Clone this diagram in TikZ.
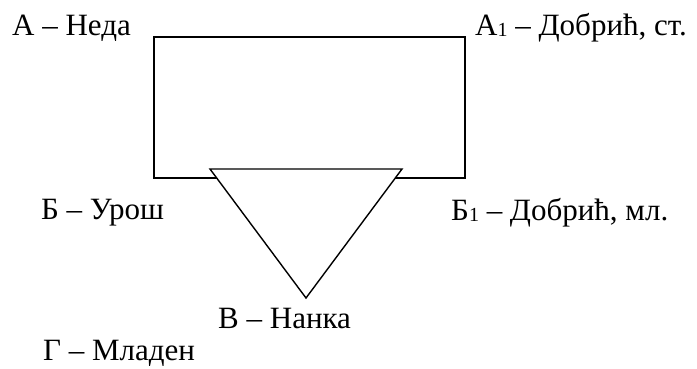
\documentclass[tikz,border=0pt]{standalone}
\usepackage{fontspec}
\setmainfont{Liberation Serif}
\newcommand{\sub}[1]{\raisebox{-1.5pt}{\fontsize{20}{20}\selectfont #1}}
\begin{document}
\begin{tikzpicture}[x=1pt,y=-1pt,
  lbl/.style={anchor=base west,inner sep=0pt,font=\fontsize{31}{31}\selectfont},
  frame/.style={draw=black,line width=1.6pt},
  tri/.style={draw=black,fill=white,line width=1.4pt,line join=miter}]
\useasboundingbox (0,0) rectangle (697,368);
\fill[white] (0,0) rectangle (697,368);
% rectangle
\node[frame,minimum width=311pt,minimum height=141pt,inner sep=0pt] (rect) at (309.5,107.5) {};
% triangle
\coordinate (tl) at (210,169);
\coordinate (tr) at (402,169);
\coordinate (ap) at (306,298);
\draw[tri] (tl) -- (tr) -- (ap) -- cycle;
% labels
\node[lbl] (a) at (12,35) {А – Неда};
\node[lbl] (a1) at (475,35) {А\sub{1} – Добрић, ст.};
\node[lbl] (b) at (41,219.5) {Б – Урош};
\node[lbl] (b1) at (451,220) {Б\sub{1} – Добрић, мл.};
\node[lbl] (v) at (218,328) {В – Нанка};
\node[lbl] (g) at (43,360) {Г – Младен};
\end{tikzpicture}
\end{document}
